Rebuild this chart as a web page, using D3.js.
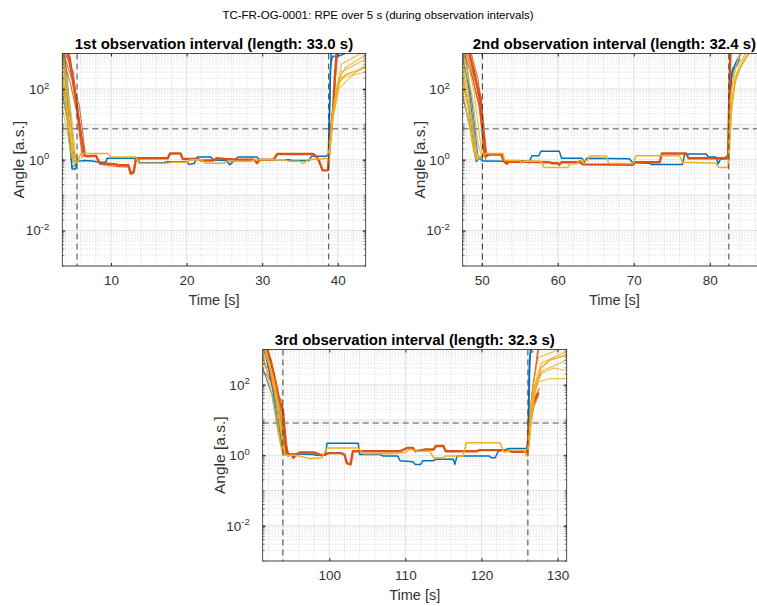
<!DOCTYPE html>
<html>
<head>
<meta charset="utf-8">
<script src="https://cdn.jsdelivr.net/npm/d3@7"></script>
<style>
body { margin: 0; background: #fff; }
svg { display: block; font-family: "Liberation Sans", Arial, Helvetica, sans-serif; }
</style>
</head>
<body>
<svg id="chart" width="757" height="606"></svg>
<script>
// ---- data (time [s], angle [a.s.]) ----
const mainTitle = "TC-FR-OG-0001: RPE over 5 s (during observation intervals)";
const panelTitles = [
    "1st observation interval (length: 33.0 s)",
    "2nd observation interval (length: 32.4 s)",
    "3rd observation interval (length: 32.3 s)"
];
const xDomains = [[3.55, 43.7], [47.5, 87.4], [91.25, 131.2]];
const xTickVals = [[10, 20, 30, 40], [50, 60, 70, 80], [100, 110, 120, 130]];
const intervalMarks = [[5.5, 38.8], [50.1, 82.5], [93.9, 126.1]];
const thresholds = [7.5, 7.5, 8.2];
const yDomain = [1e-3, 1e3];
const yTickVals = [1e-2, 1, 1e2];

// panel 1
const p1Blue = [[3.55, 1500], [4.2, 60], [4.6, 3], [4.85, 0.55], [5.3, 0.55], [5.5, 0.9], [6.5, 0.95], [7.5, 0.92], [8.5, 0.85], [9.3, 0.85], [9.5, 1.1], [13.5, 1.1], [13.8, 0.82], [17.0, 0.82], [17.4, 0.88], [20.0, 0.88], [20.3, 0.74], [21.0, 0.78], [21.4, 1.2], [23.2, 1.2], [23.6, 0.98], [25.3, 0.95], [25.7, 0.72], [26.2, 0.9], [26.8, 1.2], [29.3, 1.2], [29.6, 1.0], [33.5, 1.0], [34.0, 0.95], [36.2, 0.95], [36.5, 1.25], [38.4, 1.25], [38.75, 1.4], [38.95, 60], [39.15, 1500]];
const p1BlueIn = [
    [[3.55, 80], [4.3, 10], [4.8, 0.6], [5.2, 0.7], [5.6, 1.0]],
    [[3.55, 300], [4.5, 5], [5.0, 0.9], [5.6, 1.0]],
    [[3.8, 1500], [4.6, 20], [5.1, 1.2], [5.7, 0.95]]
];
const p1BlueOut = [
    [[38.8, 1.3], [39.0, 300], [39.2, 800], [40.5, 900], [41.5, 1100]],
    [[38.85, 1.2], [39.05, 500], [39.4, 850], [40.0, 800], [40.8, 1000]]
];
const p1Red = [[3.55, 2000], [4.5, 800], [5.0, 150], [5.5, 30], [6.0, 5], [6.5, 1.3], [7.0, 1.25], [8.0, 1.3], [8.5, 0.8], [10.5, 0.75], [11.0, 0.7], [12.3, 0.7], [12.6, 0.42], [13.0, 0.45], [13.3, 1.1], [17.5, 1.1], [17.8, 1.5], [19.2, 1.5], [19.5, 1.05], [21.5, 1.05], [22.0, 0.95], [23.5, 0.95], [24.0, 1.1], [25.0, 1.05], [27.0, 1.0], [29.0, 1.0], [29.3, 0.8], [29.7, 1.0], [31.5, 1.0], [32.0, 1.45], [36.8, 1.45], [37.2, 1.2], [37.5, 0.95], [38.0, 0.5], [38.7, 0.5], [38.9, 2], [39.2, 10], [39.4, 30], [39.6, 200], [39.9, 1500]];
const p1RedIn = [
    [[3.55, 1500], [5.0, 300], [5.5, 40], [6.3, 1.5]],
    [[3.55, 1200], [4.8, 200], [5.6, 25], [6.5, 1.2]],
    [[4.0, 1500], [5.2, 100], [5.7, 15], [6.4, 1.3]],
    [[3.55, 900], [4.6, 150], [5.5, 20], [6.2, 1.1]],
    [[4.2, 1500], [5.4, 60], [5.8, 35], [6.6, 1.4]],
    [[8.5, 0.75], [10.5, 0.65], [12.3, 0.62], [12.6, 0.38], [13.0, 0.42], [13.3, 1.0]]
];
const p1RedOut = [
    [[38.7, 0.55], [39.0, 3], [39.3, 20], [39.6, 40]],
    [[38.7, 0.5], [39.1, 8], [39.4, 35], [39.7, 60]],
    [[38.75, 0.6], [39.0, 5], [39.5, 50], [40.0, 1500]]
];
const p1Yellow = [[3.55, 300], [4.0, 60], [4.6, 5], [5.0, 0.85], [5.5, 0.8], [6.0, 1.5], [9.5, 1.5], [10.0, 1.2], [13.3, 1.2], [13.7, 0.8], [17.5, 0.8], [18.0, 0.85], [20.0, 0.85], [20.5, 1.0], [22.0, 1.0], [22.5, 0.8], [25.0, 0.8], [25.5, 0.9], [28.5, 0.9], [29.0, 1.0], [33.0, 1.0], [33.5, 0.9], [35.0, 0.9], [35.5, 0.78], [36.0, 1.0], [38.8, 1.1], [39.0, 3], [39.3, 15], [39.7, 40], [40.2, 150], [41.0, 250], [43.7, 400]];
const p1YellowIn = [
    [[3.55, 1000], [4.5, 30], [5.0, 2], [5.5, 1.0]],
    [[3.55, 600], [4.3, 40], [4.9, 3], [5.4, 0.9]],
    [[3.55, 150], [4.2, 20], [4.8, 1.5], [5.3, 0.85]],
    [[3.55, 60], [4.4, 8], [5.0, 1.2]],
    [[3.55, 30], [4.0, 10], [4.8, 1.1]],
    [[3.55, 1500], [4.8, 15], [5.3, 1.2], [5.7, 1.3]]
];
const p1YellowOut = [
    [[38.8, 1.0], [39.2, 8], [39.8, 60], [40.5, 300], [43.7, 700]],
    [[38.8, 1.1], [39.3, 20], [40.0, 150], [41.0, 400], [43.7, 900]],
    [[38.85, 1.0], [39.4, 25], [40.2, 200], [43.7, 300]],
    [[38.8, 1.2], [39.5, 40], [40.5, 500], [43.7, 1200]],
    [[38.9, 1.0], [39.3, 12], [40.1, 100], [42.0, 250], [43.7, 500]]
];

// panel 2
const p2Blue = [[47.5, 800], [48.3, 100], [49.0, 5], [49.3, 0.9], [49.6, 1.1], [50.2, 0.92], [55.8, 0.9], [56.2, 0.82], [56.6, 1.3], [57.5, 1.3], [57.8, 1.75], [60.2, 1.75], [60.5, 1.1], [63.2, 1.1], [63.5, 0.85], [63.8, 1.1], [69.4, 1.07], [69.8, 0.85], [72.0, 0.8], [72.3, 0.74], [76.4, 0.74], [76.7, 1.45], [79.5, 1.45], [79.8, 1.2], [80.8, 1.2], [81.1, 0.77], [81.4, 1.05], [82.4, 1.07], [82.6, 30], [82.9, 300], [83.5, 600], [84.5, 1500]];
const p2BlueIn = [
    [[47.5, 200], [48.4, 20], [49.1, 1.5], [49.4, 0.95], [49.8, 1.2]],
    [[47.5, 60], [48.5, 8], [49.2, 1.0], [49.7, 1.1]],
    [[47.7, 1500], [48.8, 30], [49.5, 1.3], [50.0, 1.1]]
];
const p2BlueOut = [
    [[82.5, 1.0], [82.7, 100], [83.0, 400], [83.6, 450], [84.2, 1500]],
    [[82.5, 1.1], [82.8, 200], [83.2, 350], [84.0, 700]]
];
const p2Red = [[48.0, 2000], [49.0, 300], [49.8, 50], [50.2, 5], [50.5, 1.3], [51.1, 1.4], [52.6, 1.4], [52.9, 0.9], [53.3, 0.77], [53.6, 0.88], [56.0, 0.88], [58.9, 0.85], [59.2, 0.8], [60.0, 0.8], [60.2, 0.72], [60.5, 0.85], [63.0, 0.85], [63.3, 0.74], [69.9, 0.72], [70.2, 0.85], [73.4, 0.85], [73.7, 1.5], [76.9, 1.5], [77.2, 1.1], [80.0, 1.1], [82.0, 1.1], [82.4, 1.3], [82.55, 50], [82.7, 2000]];
const p2RedIn = [
    [[47.6, 1500], [48.8, 200], [49.6, 40], [50.4, 1.3]],
    [[47.8, 1500], [49.2, 150], [49.9, 60], [50.6, 1.1]],
    [[48.2, 1500], [49.4, 100], [49.9, 20], [50.3, 1.2]],
    [[47.5, 1000], [48.6, 300], [49.7, 30], [50.5, 1.0]],
    [[48.4, 1500], [49.5, 200], [50.0, 35], [50.7, 1.2]]
];
const p2RedOut = [
    [[82.4, 1.2], [82.6, 300], [82.7, 1500]],
    [[82.45, 1.0], [82.65, 100], [82.8, 1500]]
];
const p2Yellow = [[47.5, 200], [48.2, 30], [48.8, 3], [49.3, 1.0], [49.8, 1.2], [50.5, 1.5], [52.8, 1.5], [53.0, 0.96], [55.0, 0.96], [55.2, 0.8], [55.6, 0.9], [57.8, 0.9], [58.2, 0.6], [61.3, 0.6], [61.6, 0.77], [62.5, 0.77], [62.8, 0.96], [63.9, 0.96], [64.2, 1.27], [66.4, 1.27], [66.7, 0.8], [69.9, 0.77], [70.3, 1.3], [76.0, 1.3], [76.4, 0.85], [80.8, 0.8], [81.2, 0.6], [82.4, 0.6], [82.6, 5], [82.9, 40], [83.3, 150], [84.0, 400], [85.0, 900], [86.0, 1500]];
const p2YellowIn = [
    [[47.5, 1000], [48.4, 50], [49.1, 2], [49.6, 1.1]],
    [[47.5, 500], [48.5, 20], [49.3, 1.2], [49.8, 1.0]],
    [[47.5, 80], [48.3, 10], [49.0, 1.5], [49.6, 1.3]],
    [[47.5, 1500], [48.9, 40], [49.5, 3], [50.0, 1.2]],
    [[47.8, 1500], [49.0, 80], [49.7, 5], [50.1, 1.3]],
    [[47.5, 300], [48.7, 15], [49.4, 1.0]]
];
const p2YellowOut = [
    [[82.5, 0.9], [82.8, 20], [83.3, 200], [84.0, 500], [85.0, 1500]],
    [[82.5, 1.0], [82.7, 50], [83.2, 300], [83.8, 800], [84.5, 1500]],
    [[82.5, 0.8], [82.9, 30], [83.5, 250], [84.5, 700], [85.5, 1500]],
    [[82.5, 1.1], [82.8, 80], [83.4, 400], [84.2, 1500]]
];

// panel 3
const p3Blue = [[91.25, 1500], [92.2, 200], [93.3, 10], [93.9, 1.5], [94.4, 1.1], [97.9, 1.05], [98.3, 1.0], [99.5, 1.0], [99.7, 2.2], [103.8, 2.2], [104.0, 1.05], [106.7, 1.05], [107.0, 0.96], [109.0, 0.96], [109.3, 0.7], [111.0, 0.65], [111.3, 0.55], [112.0, 0.55], [112.3, 0.7], [113.7, 0.7], [114.0, 0.77], [116.3, 0.77], [116.5, 0.55], [116.8, 0.96], [121.0, 0.96], [121.3, 0.85], [121.8, 0.85], [122.2, 1.3], [123.7, 1.55], [125.9, 1.55], [126.1, 2], [126.3, 300], [126.5, 1500]];
const p3BlueIn = [
    [[91.25, 300], [92.5, 50], [93.5, 3], [94.0, 1.0]],
    [[91.6, 1500], [93.0, 30], [93.8, 1.5], [94.3, 1.1]]
];
const p3BlueOut = [
    [[126.1, 1.5], [126.3, 600], [126.6, 1000], [127.0, 1100]],
    [[126.15, 1.6], [126.4, 800], [126.8, 900]]
];
const p3Red = [[91.25, 2000], [92.3, 500], [93.3, 40], [93.9, 20], [94.3, 2], [94.6, 1.0], [95.0, 1.05], [95.3, 0.85], [95.6, 1.05], [96.1, 1.2], [98.0, 1.2], [98.5, 1.1], [99.0, 1.0], [100.0, 1.15], [101.5, 1.15], [102.0, 1.05], [102.3, 0.6], [102.8, 0.55], [103.1, 1.3], [109.3, 1.3], [110.2, 1.6], [111.0, 1.6], [111.3, 1.3], [112.5, 1.45], [113.7, 1.45], [114.0, 1.83], [115.0, 1.83], [115.3, 1.3], [119.4, 1.3], [119.7, 1.4], [123.5, 1.4], [124.0, 1.25], [126.0, 1.25], [126.3, 8], [126.8, 30], [127.5, 60]];
const p3RedIn = [
    [[91.25, 1500], [92.6, 300], [93.5, 30], [94.2, 1.2]],
    [[91.5, 1500], [92.8, 200], [93.7, 25], [94.4, 1.0]],
    [[91.25, 400], [92.0, 300], [93.2, 50], [94.0, 3], [94.5, 1.1]],
    [[91.25, 250], [92.5, 120], [93.4, 20], [94.1, 1.1]],
    [[91.8, 1500], [93.0, 100], [93.9, 15], [94.6, 0.9]],
    [[91.25, 600], [92.8, 60], [93.8, 35], [94.3, 1.2]]
];
const p3RedOut = [
    [[126.0, 1.2], [126.4, 15], [127.0, 40], [127.6, 80]],
    [[126.05, 1.3], [126.5, 20], [127.2, 100], [127.8, 200]],
    [[126.0, 1.1], [126.3, 5], [126.9, 25], [127.5, 50]],
    [[126.1, 1.2], [126.6, 50], [127.1, 300], [127.5, 1500]],
    [[126.1, 1.2], [126.8, 100], [127.3, 500], [127.6, 1500]]
];
const p3Yellow = [[91.25, 1500], [92.5, 200], [93.3, 20], [93.8, 3], [94.2, 1.0], [95.5, 1.0], [96.5, 0.9], [97.5, 0.8], [99.0, 0.85], [99.7, 1.6], [103.8, 1.6], [104.5, 1.1], [108.0, 1.1], [110.0, 1.2], [110.6, 1.48], [111.5, 1.3], [113.2, 1.3], [113.7, 0.85], [115.0, 0.85], [115.3, 0.96], [117.6, 0.96], [118.0, 2.28], [122.4, 2.28], [123.0, 1.2], [123.7, 1.4], [125.6, 1.4], [125.9, 0.95], [126.1, 1.0], [126.5, 10], [127.0, 60], [127.8, 300], [129.0, 500], [131.2, 700]];
const p3YellowIn = [
    [[91.25, 1500], [92.2, 300], [93.0, 30], [93.6, 2], [94.0, 1.0]],
    [[91.5, 1500], [92.8, 100], [93.5, 8], [94.0, 1.1]],
    [[91.25, 800], [92.4, 60], [93.2, 5], [93.8, 1.2]],
    [[91.25, 1200], [92.7, 150], [93.6, 15], [94.1, 0.95]]
];
const p3YellowOut = [
    [[126.1, 1.0], [126.6, 30], [127.3, 150], [128.0, 250], [131.2, 500]],
    [[126.1, 1.1], [126.5, 20], [127.0, 100], [127.8, 400], [131.2, 900]],
    [[126.1, 0.9], [126.8, 50], [127.5, 120], [129.0, 150], [131.2, 150]],
    [[126.1, 1.2], [126.7, 80], [127.5, 600], [131.2, 1200]],
    [[126.1, 1.0], [126.9, 40], [127.6, 200], [129.5, 300], [131.2, 250]]
];

// ---- layout ----
const colors = { blue: "#0072BD", red: "#D95319", yellow: "#EDB120" };
const boxes = [
    { left: 62.3, right: 365.7, top: 53.5, bottom: 266 },
    { left: 462.7, right: 766.1, top: 53.5, bottom: 266 },
    { left: 262.7, right: 566.7, top: 349.5, bottom: 561 }
];
const seriesByPanel = [
    { blue: [p1Blue, p1BlueIn, p1BlueOut], red: [p1Red, p1RedIn, p1RedOut], yellow: [p1Yellow, p1YellowIn, p1YellowOut] },
    { blue: [p2Blue, p2BlueIn, p2BlueOut], red: [p2Red, p2RedIn, p2RedOut], yellow: [p2Yellow, p2YellowIn, p2YellowOut] },
    { blue: [p3Blue, p3BlueIn, p3BlueOut], red: [p3Red, p3RedIn, p3RedOut], yellow: [p3Yellow, p3YellowIn, p3YellowOut] }
];

const svg = d3.select("#chart");

svg.append("text")
    .attr("x", 378).attr("y", 19)
    .attr("text-anchor", "middle")
    .attr("font-size", "11.5px")
    .attr("fill", "#000")
    .text(mainTitle);

boxes.forEach((b, i) => drawPanel(b, i));

function drawPanel(b, i) {
    const x = d3.scaleLinear().domain(xDomains[i]).range([b.left, b.right]);
    const y = d3.scaleLog().domain(yDomain).range([b.bottom, b.top]);
    const g = svg.append("g");
    const clipId = "clip" + i;

    g.append("clipPath").attr("id", clipId).append("rect")
        .attr("x", b.left).attr("y", b.top)
        .attr("width", b.right - b.left).attr("height", b.bottom - b.top);

    const isDecade = v => Math.abs(Math.log10(v) - Math.round(Math.log10(v))) < 1e-9;
    const yAll = y.ticks();
    const yMinor = yAll.filter(v => !isDecade(v));
    const yDecades = yAll.filter(isDecade);
    const xMinor = x.ticks(20).filter(v => !xTickVals[i].includes(v));

    // grid
    const grid = g.append("g");
    grid.selectAll(".ym").data(yMinor).join("line")
        .attr("x1", b.left).attr("x2", b.right)
        .attr("y1", d => y(d)).attr("y2", d => y(d))
        .attr("stroke", "#c4c4c4").attr("stroke-width", 0.7).attr("stroke-dasharray", "1,2");
    grid.selectAll(".xm").data(xMinor).join("line")
        .attr("x1", d => x(d)).attr("x2", d => x(d))
        .attr("y1", b.top).attr("y2", b.bottom)
        .attr("stroke", "#c4c4c4").attr("stroke-width", 0.7).attr("stroke-dasharray", "1,2");
    grid.selectAll(".yM").data(yDecades).join("line")
        .attr("x1", b.left).attr("x2", b.right)
        .attr("y1", d => y(d)).attr("y2", d => y(d))
        .attr("stroke", "#dedede").attr("stroke-width", 0.9);
    grid.selectAll(".xM").data(xTickVals[i]).join("line")
        .attr("x1", d => x(d)).attr("x2", d => x(d))
        .attr("y1", b.top).attr("y2", b.bottom)
        .attr("stroke", "#dedede").attr("stroke-width", 0.9);

    // data
    const line = d3.line().x(d => x(d[0])).y(d => y(d[1]));
    const plot = g.append("g").attr("clip-path", `url(#${clipId})`);
    const s = seriesByPanel[i];
    ["blue", "red", "yellow"].forEach(c => {
        const [main, ins, outs] = s[c];
        plot.selectAll(null).data(ins.concat(outs)).join("path")
            .attr("d", line)
            .attr("fill", "none")
            .attr("stroke", colors[c])
            .attr("stroke-width", 1.2)
            .attr("stroke-opacity", 0.8);
        plot.append("path").datum(main)
            .attr("d", line)
            .attr("fill", "none")
            .attr("stroke", colors[c])
            .attr("stroke-width", c === "red" ? 2.4 : 1.5)
            .attr("stroke-linejoin", "round");
    });

    // reference lines
    plot.append("line")
        .attr("x1", b.left).attr("x2", b.right)
        .attr("y1", y(thresholds[i])).attr("y2", y(thresholds[i]))
        .attr("stroke", "#8a8a8a").attr("stroke-width", 1.6).attr("stroke-dasharray", "6,4");
    plot.selectAll(".vm").data(intervalMarks[i]).join("line")
        .attr("x1", d => x(d)).attr("x2", d => x(d))
        .attr("y1", b.top).attr("y2", b.bottom)
        .attr("stroke", "#404040").attr("stroke-width", 1).attr("stroke-dasharray", "6,4");

    // axes
    const ax = g.append("g").attr("fill", "#333").attr("font-size", "13px");
    const bottomAxis = ax.append("g").attr("transform", `translate(0,${b.bottom})`)
        .call(d3.axisBottom(x).tickValues(xTickVals[i]).tickSizeInner(-3).tickSizeOuter(0).tickPadding(9));
    const topAxis = ax.append("g").attr("transform", `translate(0,${b.top})`)
        .call(d3.axisTop(x).tickValues(xTickVals[i]).tickSizeInner(-3).tickSizeOuter(0).tickFormat(""));
    const leftAxis = ax.append("g").attr("transform", `translate(${b.left},0)`)
        .call(d3.axisLeft(y).tickValues(yTickVals).tickSizeInner(-3).tickSizeOuter(0).tickPadding(9).tickFormat(() => "10"));
    const rightAxis = ax.append("g").attr("transform", `translate(${b.right},0)`)
        .call(d3.axisRight(y).tickValues(yTickVals).tickSizeInner(-3).tickSizeOuter(0).tickFormat(""));
    leftAxis.selectAll(".tick text").attr("dx", "-4px")
        .append("tspan").attr("dy", "-0.55em").attr("font-size", "9px")
        .text(d => String(Math.round(Math.log10(d))));
    [bottomAxis, topAxis, leftAxis, rightAxis].forEach(a => {
        a.select(".domain").remove();
        a.selectAll(".tick line").attr("stroke", "#262626");
        a.selectAll(".tick text").attr("fill", "#333").attr("font-size", "13.5px")
            .attr("font-family", "'Liberation Sans', Arial, Helvetica, sans-serif");
    });
    leftAxis.selectAll(".tick text tspan").attr("font-size", "9.5px");

    // minor ticks on log axis
    ax.selectAll(".mtl").data(yAll).join("line")
        .attr("x1", b.left).attr("x2", b.left + 2)
        .attr("y1", d => y(d)).attr("y2", d => y(d))
        .attr("stroke", "#262626").attr("stroke-width", 0.6);
    ax.selectAll(".mtr").data(yAll).join("line")
        .attr("x1", b.right).attr("x2", b.right - 2)
        .attr("y1", d => y(d)).attr("y2", d => y(d))
        .attr("stroke", "#262626").attr("stroke-width", 0.6);

    // box
    g.append("rect")
        .attr("x", b.left).attr("y", b.top)
        .attr("width", b.right - b.left).attr("height", b.bottom - b.top)
        .attr("fill", "none").attr("stroke", "#262626").attr("stroke-width", 0.8);

    // titles and labels
    g.append("text")
        .attr("x", (b.left + b.right) / 2).attr("y", b.top - 5)
        .attr("text-anchor", "middle")
        .attr("font-size", "15px").attr("font-weight", "bold")
        .attr("fill", "#000")
        .text(panelTitles[i]);
    g.append("text")
        .attr("x", (b.left + b.right) / 2).attr("y", b.bottom + 39)
        .attr("text-anchor", "middle")
        .attr("font-size", "14.5px").attr("fill", "#333")
        .text("Time [s]");
    g.append("text")
        .attr("transform", `translate(${b.left - 38},${(b.top + b.bottom) / 2}) rotate(-90)`)
        .attr("text-anchor", "middle")
        .attr("font-size", "15.5px").attr("fill", "#333")
        .text("Angle [a.s.]");
}
</script>
</body>
</html>
